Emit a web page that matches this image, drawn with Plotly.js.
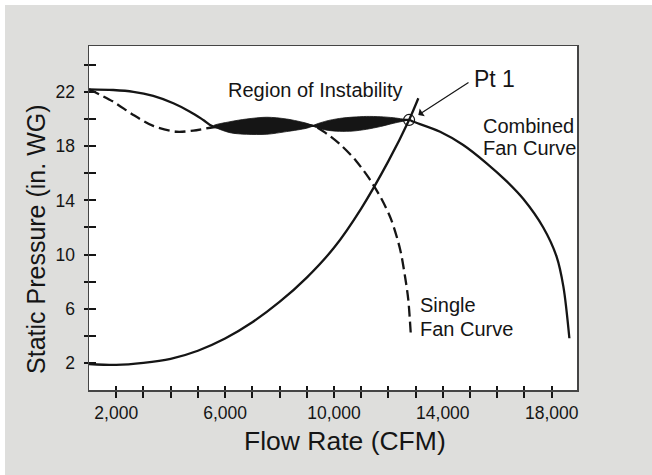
<!DOCTYPE html>
<html>
<head>
<meta charset="utf-8">
<script src="https://cdn.plot.ly/plotly-3.0.1.min.js"></script>
<style>
  html, body { margin: 0; padding: 0; background: #ffffff; width: 652px; height: 475px; overflow: hidden; }
  #chart { position: absolute; left: 5px; top: 5px; width: 647px; height: 470px; }
</style>
</head>
<body>
<div id="chart"></div>
<script>
// System curve (solid, rising)
var sysQ = [1000, 2000, 3000, 4000, 5000, 6000, 7000, 8000, 9000, 10000, 11000, 12000, 12760, 13100];
var sysP = [1.92, 1.85, 2.0, 2.3, 2.9, 3.8, 5.0, 6.5, 8.3, 10.5, 13.4, 16.9, 19.94, 21.54];

// Single fan curve (dashed)
var singleQ = [1000, 1890, 2630, 3360, 4220, 4830, 5570, 7400, 9240, 9750, 10300, 10800, 11300, 11750, 12100, 12430, 12610, 12730, 12830];
var singleP = [22.2, 21.29, 20.31, 19.5, 19.07, 19.15, 19.4, 19.6, 19.5, 18.9, 18.0, 16.95, 15.6, 14.1, 12.6, 10.4, 8.4, 6.7, 3.9];

// Combined fan curve (solid)
var combQ = [1000, 1890, 2630, 3360, 4100, 4710, 5200, 5570, 7500, 9240, 10700, 12760, 12920, 13900, 14750, 15610, 16350, 16960, 17690, 18180, 18430, 18650];
var combP = [22.2, 22.15, 22.02, 21.71, 21.17, 20.55, 19.94, 19.45, 19.5, 19.5, 19.65, 19.94, 19.81, 19.07, 18.09, 16.74, 15.4, 14.1, 12.0, 9.85, 7.63, 3.82];

// Region of instability lobes
var lobe1Q = [5570, 6180, 6790, 7530, 8260, 9000, 9240];
var lobe1Top = [19.5, 19.81, 20.01, 20.14, 20.01, 19.69, 19.5];
var lobe1Bot = [19.5, 19.0, 18.88, 18.88, 19.08, 19.33, 19.5];
var lobe2Q = [9240, 9700, 10200, 10700, 11200, 11700, 12200, 12760];
var lobe2Top = [19.5, 19.85, 20.05, 20.15, 20.2, 20.18, 20.1, 19.94];
var lobe2Bot = [19.5, 19.2, 19.1, 19.12, 19.25, 19.45, 19.7, 19.94];

// Operating point
var pt1Q = [12760];
var pt1P = [19.94];

// Ticks
var xTickVals = [2000,3000,4000,5000,6000,7000,8000,9000,10000,11000,12000,13000,14000,15000,16000,17000,18000];
var xTickText = ['2,000','','','','6,000','','','','10,000','','','','14,000','','','','18,000'];
var yTickVals = [2,4,6,8,10,12,14,16,18,20,22,24];
var yTickText = ['2','','6','','10','','14','','18','','22',''];

var FONT = 'Liberation Sans, Arial, Helvetica, sans-serif';
var INK = '#151515';
var xRange = [1000, 18930];
var yRange = [0, 25.4];

function lobe(q, top, bot) {
  var xs = q.slice().concat(q.slice().reverse());
  var ys = top.slice().concat(bot.slice().reverse());
  return {
    x: xs, y: ys, mode: 'lines', fill: 'toself', fillcolor: INK,
    line: {color: INK, width: 0.8, shape: 'spline', smoothing: 0.8},
    hoverinfo: 'skip', showlegend: false
  };
}

var traces = [
  {x: sysQ, y: sysP, mode: 'lines', line: {color: INK, width: 2.3, shape: 'spline', smoothing: 0.9}, showlegend: false},
  {x: singleQ, y: singleP, mode: 'lines', line: {color: INK, width: 2.3, dash: '11px,5px', shape: 'spline', smoothing: 0.8}, showlegend: false},
  {x: combQ, y: combP, mode: 'lines', line: {color: INK, width: 2.3, shape: 'spline', smoothing: 0.9}, showlegend: false},
  lobe(lobe1Q, lobe1Top, lobe1Bot),
  lobe(lobe2Q, lobe2Top, lobe2Bot),
  {x: pt1Q, y: pt1P, mode: 'markers', marker: {symbol: 'circle-open', size: 11, color: INK, line: {width: 1.2}}, showlegend: false},
  // invisible trace to host the overlay (inside-tick) axes
  {x: [xRange[0]], y: [yRange[0]], xaxis: 'x2', yaxis: 'y2', mode: 'markers', marker: {opacity: 0}, hoverinfo: 'skip', showlegend: false}
];

var annFont = {family: FONT, size: 20, color: INK};

var layout = {
  width: 647, height: 470,
  margin: {l: 84, r: 75, t: 41, b: 85, pad: 0},
  paper_bgcolor: '#dededc',
  plot_bgcolor: '#ffffff',
  showlegend: false,
  font: {family: FONT, color: INK},
  xaxis: {
    range: xRange, showgrid: false, zeroline: false,
    showline: true, linecolor: '#454545', linewidth: 1.5, mirror: true,
    ticks: 'outside', ticklen: 6, tickwidth: 2, tickcolor: INK,
    tickmode: 'array', tickvals: xTickVals, ticktext: xTickText,
    tickfont: {family: FONT, size: 17.5, color: INK}
  },
  yaxis: {
    range: yRange, showgrid: false, zeroline: false,
    showline: true, linecolor: '#454545', linewidth: 1.5, mirror: true,
    ticks: 'outside', ticklen: 4, tickwidth: 2, tickcolor: INK,
    tickmode: 'array', tickvals: yTickVals, ticktext: yTickText,
    tickfont: {family: FONT, size: 17.5, color: INK},
    ticklabelstandoff: 5
  },
  xaxis2: {
    overlaying: 'x', anchor: 'y2', side: 'bottom', range: xRange,
    showgrid: false, zeroline: false, showline: false,
    ticks: 'inside', ticklen: 4, tickwidth: 2, tickcolor: INK,
    tickmode: 'array', tickvals: xTickVals, showticklabels: false
  },
  yaxis2: {
    overlaying: 'y', anchor: 'x2', side: 'left', range: yRange,
    showgrid: false, zeroline: false, showline: false,
    ticks: 'inside', ticklen: 7, tickwidth: 2, tickcolor: INK,
    tickmode: 'array', tickvals: yTickVals, showticklabels: false
  },
  annotations: [
    {xref: 'paper', yref: 'paper', x: 0.5246, y: -0.148, xanchor: 'center', yanchor: 'middle',
     text: 'Flow Rate (CFM)', showarrow: false, font: {family: FONT, size: 26.5, color: INK}},
    {xref: 'paper', yref: 'paper', x: -0.1086, y: 0.439, xanchor: 'center', yanchor: 'middle', textangle: -90,
     text: 'Static Pressure (in. WG)', showarrow: false, font: {family: FONT, size: 25, color: INK}},
    {x: 6040, y: 22.15, xanchor: 'left', yanchor: 'middle', text: 'Region of Instability', showarrow: false, font: annFont},
    {x: 15906, y: 22.99, xanchor: 'center', yanchor: 'middle', text: 'Pt 1', showarrow: false, font: {family: FONT, size: 23, color: INK}},
    {x: 13099, y: 20.31, ax: 51.7, ay: -33.3, text: '', showarrow: true, arrowhead: 1, arrowsize: 1.3, arrowwidth: 1.2, arrowcolor: INK, standoff: 0},
    {x: 15420, y: 19.49, xanchor: 'left', yanchor: 'middle', text: 'Combined', showarrow: false, font: annFont},
    {x: 15420, y: 17.85, xanchor: 'left', yanchor: 'middle', text: 'Fan Curve', showarrow: false, font: annFont},
    {x: 13080, y: 6.24, xanchor: 'left', yanchor: 'middle', text: 'Single', showarrow: false, font: annFont},
    {x: 13080, y: 4.47, xanchor: 'left', yanchor: 'middle', text: 'Fan Curve', showarrow: false, font: annFont}
  ]
};

Plotly.newPlot('chart', traces, layout, {displayModeBar: false, staticPlot: true});
</script>
</body>
</html>
